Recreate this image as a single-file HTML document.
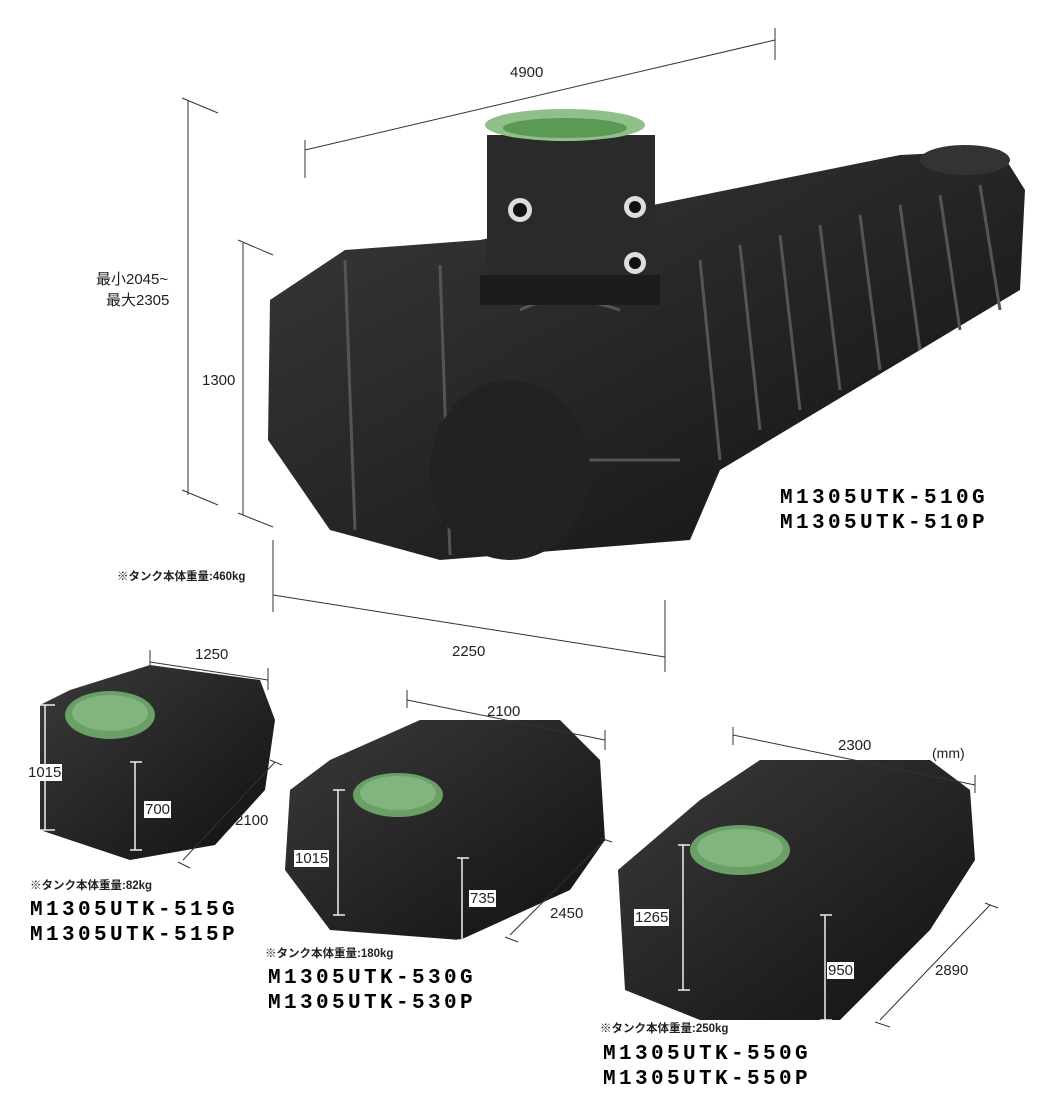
<!DOCTYPE html>
<html><head><meta charset="utf-8"><style>
body{margin:0;background:#fff;width:1056px;height:1115px;overflow:hidden;position:relative;font-family:"Liberation Sans","Noto Sans CJK JP",sans-serif}
.t{position:absolute;font-size:15px;color:#222;white-space:nowrap}
.b{background:#fff;padding:0 1px;line-height:17px}
.w{position:absolute;font-size:11.5px;color:#222;font-weight:bold;white-space:nowrap}
.m{position:absolute;font-family:"Liberation Mono",monospace;font-weight:bold;font-size:21px;letter-spacing:3.4px;color:#000;line-height:25px;white-space:nowrap}
svg{position:absolute;left:0;top:0}
</style></head><body>
<svg width="1056" height="1115" viewBox="0 0 1056 1115">
<defs>
<linearGradient id="g" x1="0" y1="0" x2="1" y2="1"><stop offset="0" stop-color="#3a3a3a"/><stop offset="1" stop-color="#111"/></linearGradient>
</defs>
<polygon points="270,300 345,250 480,240 900,155 1000,150 1025,190 1020,290 720,470 690,540 440,560 330,530 268,440" fill="url(#g)"/>
<g stroke="#555" stroke-width="3" fill="none">
<path d="M700,260 L720,460"/><path d="M740,245 L760,430"/><path d="M780,235 L800,410"/><path d="M820,225 L840,390"/><path d="M860,215 L880,370"/><path d="M900,205 L920,350"/><path d="M940,195 L960,330"/><path d="M980,185 L1000,310"/>
<path d="M345,260 L355,530"/><path d="M440,265 L450,555"/><path d="M520,310 Q560,290 620,310"/><path d="M550,460 L680,460"/>
</g>
<ellipse cx="510" cy="470" rx="80" ry="90" fill="#222"/>
<rect x="487" y="135" width="168" height="165" fill="#2a2a2a"/>
<rect x="480" y="275" width="180" height="30" fill="#1c1c1c"/>
<ellipse cx="565" cy="125" rx="80" ry="16" fill="#8fc08a"/>
<ellipse cx="565" cy="128" rx="62" ry="10" fill="#5a9a55"/>
<circle cx="520" cy="210" r="12" fill="#ddd"/><circle cx="520" cy="210" r="7" fill="#111"/>
<circle cx="635" cy="207" r="11" fill="#ddd"/><circle cx="635" cy="207" r="6" fill="#111"/>
<circle cx="635" cy="263" r="11" fill="#ddd"/><circle cx="635" cy="263" r="6" fill="#111"/>
<ellipse cx="965" cy="160" rx="45" ry="15" fill="#333"/>
<polygon points="40,705 70,690 150,665 260,680 275,720 265,790 215,845 130,860 40,830" fill="url(#g)"/>
<ellipse cx="110" cy="715" rx="45" ry="24" fill="#6aa066"/><ellipse cx="110" cy="713" rx="38" ry="18" fill="#82b47d"/>
<polygon points="290,790 330,760 420,720 560,720 600,760 605,840 570,890 460,940 330,930 285,870" fill="url(#g)"/>
<ellipse cx="398" cy="795" rx="45" ry="22" fill="#6aa066"/><ellipse cx="398" cy="793" rx="38" ry="17" fill="#82b47d"/>
<polygon points="618,870 700,800 760,760 930,760 970,790 975,860 930,930 840,1020 700,1020 625,990" fill="url(#g)"/>
<ellipse cx="740" cy="850" rx="50" ry="25" fill="#6aa066"/><ellipse cx="740" cy="848" rx="43" ry="19" fill="#82b47d"/>
<g stroke="#333" stroke-width="1" fill="none">
<path d="M305,150 L775,40 M305,140 L305,178 M775,28 L775,60"/>
<path d="M188,100 L188,495 M182,98 L218,113 M182,490 L218,505"/>
<path d="M243,243 L243,515 M238,240 L273,255 M238,513 L273,527"/>
<path d="M273,595 L665,657 M273,540 L273,612 M665,600 L665,672"/>
<path d="M150,662 L268,680 M150,650 L150,672 M268,668 L268,690"/>
<path d="M183,860 L275,762 M178,862 L190,868 M270,760 L282,765"/>
<path d="M407,700 L605,740 M407,690 L407,708 M605,730 L605,750"/>
<path d="M510,935 L605,840 M505,937 L518,942 M600,838 L612,842"/>
<path d="M733,735 L975,785 M733,727 L733,745 M975,775 L975,793"/>
<path d="M880,1020 L990,905 M875,1022 L890,1027 M985,903 L998,908"/>
</g>
<g stroke="#eee" stroke-width="1.5" fill="none">
<path d="M45,705 L45,830 M40,705 L55,705 M40,830 L55,830"/>
<path d="M135,762 L135,850 M130,762 L142,762 M130,850 L142,850"/>
<path d="M338,790 L338,915 M333,790 L345,790 M333,915 L345,915"/>
<path d="M462,858 L462,940 M457,858 L469,858 M457,940 L469,940"/>
<path d="M683,845 L683,990 M678,845 L690,845 M678,990 L690,990"/>
<path d="M825,915 L825,1020 M820,915 L832,915 M820,1020 L832,1020"/>
</g>
</svg>
<div class="t" style="left:510px;top:64px">4900</div>
<div class="t" style="left:96px;top:268px">最小2045~</div>
<div class="t" style="left:106px;top:289px">最大2305</div>
<div class="t" style="left:202px;top:372px">1300</div>
<div class="m" style="left:780px;top:486px">M1305UTK-510G<br>M1305UTK-510P</div>
<div class="w" style="left:117px;top:568px">※タンク本体重量:460kg</div>
<div class="t" style="left:452px;top:643px">2250</div>
<div class="t" style="left:195px;top:646px">1250</div>
<div class="t b" style="left:27px;top:764px">1015</div>
<div class="t b" style="left:144px;top:801px">700</div>
<div class="t" style="left:235px;top:812px">2100</div>
<div class="w" style="left:30px;top:877px">※タンク本体重量:82kg</div>
<div class="m" style="left:30px;top:898px">M1305UTK-515G<br>M1305UTK-515P</div>
<div class="t" style="left:487px;top:703px">2100</div>
<div class="t b" style="left:294px;top:850px">1015</div>
<div class="t b" style="left:469px;top:890px">735</div>
<div class="t" style="left:550px;top:905px">2450</div>
<div class="w" style="left:265px;top:945px">※タンク本体重量:180kg</div>
<div class="m" style="left:268px;top:966px">M1305UTK-530G<br>M1305UTK-530P</div>
<div class="t" style="left:838px;top:737px">2300</div>
<div class="t" style="left:932px;top:745px;font-size:14px">(mm)</div>
<div class="t b" style="left:634px;top:909px">1265</div>
<div class="t b" style="left:827px;top:962px">950</div>
<div class="t" style="left:935px;top:962px">2890</div>
<div class="w" style="left:600px;top:1020px">※タンク本体重量:250kg</div>
<div class="m" style="left:603px;top:1042px">M1305UTK-550G<br>M1305UTK-550P</div>
</body></html>
